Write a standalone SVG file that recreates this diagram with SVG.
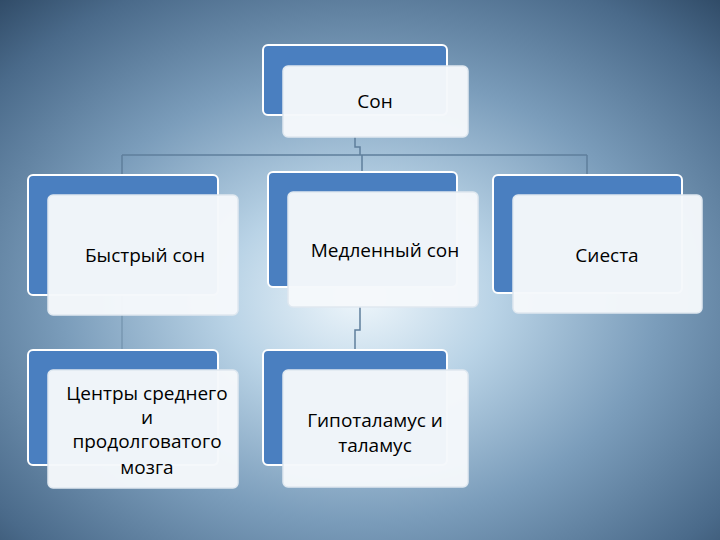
<svg xmlns="http://www.w3.org/2000/svg" width="720" height="540" viewBox="0 0 720 540">
<defs>
<radialGradient id="bg" cx="0.5" cy="0.55" r="0.75">
<stop offset="0" stop-color="#eef6fb"/>
<stop offset="0.25" stop-color="#b9d3e6"/>
<stop offset="0.55" stop-color="#7b9dbb"/>
<stop offset="0.85" stop-color="#4a6a8a"/>
<stop offset="1" stop-color="#2f4a66"/>
</radialGradient>
<style>
.back{fill:#4a7fc0;stroke:#ffffff;stroke-width:2}
.front{fill:#f5f8fb;fill-opacity:0.97;stroke:#dfe8f0;stroke-width:1.5}
.t{font-family:"Open Sans","DejaVu Sans",sans-serif;font-size:19px;fill:#000;text-anchor:middle}
.c{fill:none;stroke:#5f7f9c;stroke-width:1.5}
</style>
</defs>
<rect width="720" height="540" fill="url(#bg)"/>
<g id="connectors">
<path class="c" d="M355 137 V147 H360 V155 M122 155 H587 M122 155 V175 M362 155 V172 M587 155 V175"/>
<path class="c" d="M360 307 V330 H355 V350"/>
<path class="c" d="M122 295 V350" stroke-opacity="0.5"/>
</g>
<g id="son"><rect class="back" x="263" y="45" width="184" height="70" rx="5"/><rect class="front" x="283" y="66" width="185" height="71" rx="5"/><text class="t" x="375" y="108">Сон</text></g>
<g id="bystry"><rect class="back" x="28" y="175" width="190" height="120" rx="5"/><rect class="front" x="48" y="195" width="190" height="120" rx="5"/><text class="t" x="145" y="262">Быстрый сон</text></g>
<g id="medlenny"><rect class="back" x="268" y="172" width="189" height="115" rx="5"/><rect class="front" x="288" y="192" width="190" height="115" rx="5"/><text class="t" x="385" y="257">Медленный сон</text></g>
<g id="siesta"><rect class="back" x="493" y="175" width="189" height="118" rx="5"/><rect class="front" x="513" y="195" width="189" height="118" rx="5"/><text class="t" x="607" y="262">Сиеста</text></g>
<g id="centry"><rect class="back" x="28" y="350" width="190" height="115" rx="5"/><rect class="front" x="48" y="370" width="190" height="118" rx="5"/><text class="t" x="147" y="400">Центры среднего</text><text class="t" x="147" y="424">и</text><text class="t" x="147" y="448">продолговатого</text><text class="t" x="147" y="474">мозга</text></g>
<g id="gipo"><rect class="back" x="263" y="350" width="184" height="115" rx="5"/><rect class="front" x="283" y="370" width="185" height="117" rx="5"/><text class="t" x="375" y="427">Гипоталамус и</text><text class="t" x="375" y="452">таламус</text></g>
</svg>
